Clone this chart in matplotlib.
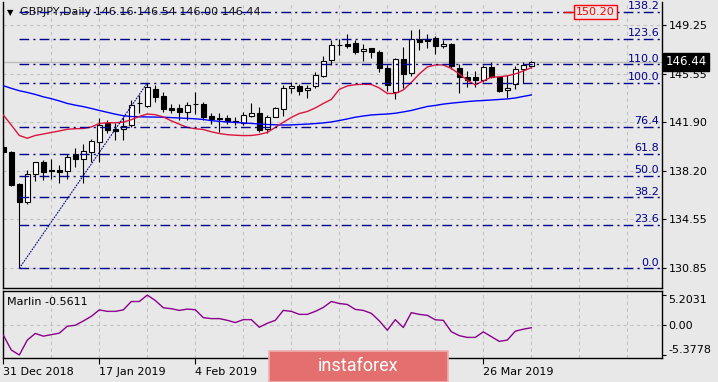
import matplotlib
matplotlib.use("Agg")
import matplotlib.pyplot as plt
import matplotlib.transforms as mtransforms
from matplotlib.patches import Rectangle
import numpy as np

# GBPJPY daily candles, 31 Dec 2018 .. 3 Apr 2019
opens = [140.03, 139.66, 137.22, 135.88, 137.95, 138.86, 138.27, 138.27, 138.20, 139.48,
         139.08, 139.66, 140.41, 141.80, 141.39, 141.35, 141.67, 143.31, 143.11, 144.39,
         143.86, 142.94, 142.94, 142.68, 143.24, 143.26, 142.35, 142.20, 142.18, 142.01,
         141.85, 142.38, 142.56, 141.35, 142.30, 142.86, 144.45, 144.62, 144.32, 144.64,
         145.40, 146.55, 147.68, 147.79, 147.87, 147.23, 147.47, 147.19, 145.96, 144.19,
         146.64, 145.58, 148.17, 148.17, 148.27, 147.60, 147.78, 145.98, 145.30, 145.29,
         145.07, 146.03, 145.32, 144.32, 144.75, 145.90, 146.16]
highs = [140.79, 139.70, 137.29, 138.27, 138.90, 139.03, 139.08, 138.65, 139.48, 139.96,
         140.24, 140.59, 142.18, 142.05, 141.80, 142.30, 143.56, 143.94, 144.85, 144.70,
         144.19, 143.26, 143.26, 143.43, 144.17, 143.43, 142.56, 142.56, 142.43, 142.24,
         142.63, 143.31, 143.06, 142.43, 143.06, 144.70, 144.94, 144.75, 144.70, 145.70,
         146.89, 148.09, 148.13, 148.52, 148.09, 147.79, 147.49, 147.30, 146.21, 146.70,
         147.57, 148.85, 148.90, 148.52, 148.43, 148.06, 147.85, 146.28, 145.75, 145.72,
         146.21, 146.46, 145.40, 145.45, 146.15, 146.41, 146.54]
lows = [139.41, 137.10, 130.85, 135.71, 137.47, 137.52, 137.57, 137.32, 137.57, 138.52,
        137.27, 138.90, 138.90, 141.05, 140.54, 140.54, 141.50, 142.56, 143.06, 143.43,
        142.68, 142.60, 142.05, 142.05, 142.50, 142.05, 141.75, 141.11, 141.71, 141.67,
        141.67, 142.30, 141.17, 141.05, 142.30, 142.38, 144.07, 143.94, 143.74, 144.45,
        145.30, 146.21, 146.94, 147.47, 147.04, 146.51, 146.73, 145.70, 144.24, 143.66,
        144.47, 145.38, 147.34, 147.45, 147.00, 147.45, 145.90, 144.07, 144.51, 144.57,
        144.94, 145.20, 144.19, 143.74, 144.39, 144.82, 146.00]
closes = [139.66, 137.14, 135.88, 137.95, 138.86, 138.15, 138.18, 138.10, 139.23, 139.08,
          139.69, 140.47, 141.67, 141.30, 141.22, 141.62, 143.18, 143.33, 144.52, 143.81,
          142.86, 142.81, 142.68, 143.18, 143.26, 142.30, 142.10, 142.16, 141.96, 141.92,
          142.43, 142.56, 141.32, 142.30, 142.96, 144.47, 144.62, 144.26, 144.47, 145.41,
          146.49, 147.68, 147.69, 147.66, 147.19, 147.39, 147.15, 145.96, 144.70, 146.64,
          145.51, 148.15, 147.97, 148.04, 147.62, 147.78, 146.09, 145.26, 145.07, 145.04,
          146.08, 145.32, 144.26, 144.49, 145.88, 146.21, 146.44]

# moving averages
ma_blue = [144.64, 144.44, 144.26, 144.13, 143.98, 143.80, 143.66, 143.49, 143.30, 143.17,
           143.06, 142.92, 142.77, 142.63, 142.49, 142.37, 142.31, 142.29, 142.28, 142.27,
           142.26, 142.23, 142.20, 142.17, 142.14, 142.09, 142.00, 141.95, 141.90, 141.87,
           141.83, 141.79, 141.75, 141.71, 141.69, 141.67, 141.68, 141.71, 141.74, 141.78,
           141.83, 141.90, 142.01, 142.13, 142.26, 142.35, 142.43, 142.47, 142.50, 142.56,
           142.66, 142.77, 142.92, 143.07, 143.15, 143.25, 143.32, 143.38, 143.44, 143.49,
           143.52, 143.56, 143.60, 143.64, 143.71, 143.83, 143.94]
ma_red = [142.43, 141.67, 140.88, 140.67, 140.88, 140.99, 141.11, 141.22, 141.35, 141.39,
          141.41, 141.52, 141.79, 141.84, 141.84, 141.89, 142.07, 142.32, 142.50, 142.45,
          142.28, 141.99, 141.73, 141.49, 141.39, 141.33, 141.16, 141.03, 140.94, 140.90,
          140.87, 140.88, 140.96, 141.11, 141.49, 141.88, 142.24, 142.54, 142.69, 142.96,
          143.30, 143.60, 144.36, 144.62, 144.72, 144.75, 144.73, 144.47, 144.05, 144.05,
          144.32, 144.88, 145.53, 146.05, 146.21, 146.21, 145.94, 145.53, 145.05, 144.70,
          145.00, 145.28, 145.31, 145.39, 145.53, 145.75, 146.00]

marlin = [-1.87, -4.49, -5.3778, -2.74, -1.57, -2.05, -1.78, -1.52, -0.30, -0.12,
          0.63, 1.45, 2.59, 2.33, 2.33, 2.59, 4.07, 4.07, 5.2031, 4.25,
          2.97, 2.80, 2.50, 2.73, 2.62, 1.22, 1.05, 1.05, 0.75, 0.35,
          0.87, 0.87, -0.47, 0.23, 0.75, 2.50, 2.33, 1.80, 1.80, 2.33,
          3.02, 4.07, 3.72, 3.55, 2.67, 2.50, 1.98, 0.66, -1.00, 0.87,
          -0.52, 2.10, 1.80, 1.63, 0.84, 0.75, -1.26, -1.96, -2.27, -2.27,
          -1.29, -2.13, -2.97, -2.74, -1.17, -0.82, -0.5611]

price_ticks = [149.25, 145.55, 141.90, 138.20, 134.55, 130.85]
marlin_ticks = [5.2031, 0.0, -5.3778]
marlin_labels = ["5.2031", "0.00", "-5.3778"]
# the 20 Feb and 8 Mar labels sit under the logo in the original
date_ticks = [0, 12, 24, 36, 48, 60]
date_labels = ["31 Dec 2018", "17 Jan 2019", "4 Feb 2019", "", "", "26 Mar 2019"]

# fibonacci retracement: anchored on the 3 Jan low and the 21 Jan high
fib_start, fib_end = 2, 18
fib_low, fib_high = 130.85, 144.85
fib_levels = [0.0, 23.6, 38.2, 50.0, 61.8, 76.4, 100.0, 110.0, 123.6, 138.2]

title = "GBPJPY,Daily 146.16 146.54 146.00 146.44"
last_price = closes[-1]

BG = "#E8E8E8"
GRID = "#C3C3C3"
FIB = "#00008B"
W, H = 718, 382
XMIN, XMAX = -0.1, 82.3

plt.rcParams["font.family"] = "DejaVu Sans"
plt.rcParams["font.size"] = 8

fig = plt.figure(figsize=(W / 100, H / 100), dpi=100, facecolor=BG)
ax = fig.add_axes([2.5 / W, (H - 288.3) / H, 659.2 / W, 286.3 / H], facecolor=BG)
ax2 = fig.add_axes([2.5 / W, (H - 358.3) / H, 659.2 / W, 67.6 / H], facecolor=BG)

# ---- main price window ----
ax.set_xlim(XMIN, XMAX)
ax.set_ylim(129.34, 150.96)
for g in range(0, 84, 6):
    ax.axvline(g, color=GRID, lw=0.8, ls=(0, (3, 3)), zorder=0)
    ax2.axvline(g, color=GRID, lw=0.8, ls=(0, (3, 3)), zorder=0)
for p in price_ticks:
    ax.axhline(p, color=GRID, lw=0.8, ls=(0, (3, 3)), zorder=0)
ax.axhline(last_price, color="#BDBDBD", lw=1.0, zorder=1)

idx = np.arange(len(opens))
o = np.array(opens)
c = np.array(closes)
up = c >= o
ax.vlines(idx, lows, highs, color="black", lw=0.8, zorder=3)
ax.bar(idx[up], (c - o)[up], bottom=o[up], width=0.55, color="white",
       edgecolor="black", lw=0.8, zorder=4)
ax.bar(idx[~up], (o - c)[~up], bottom=c[~up], width=0.55, color="black",
       edgecolor="black", lw=0.8, zorder=4)

ax.plot(idx, ma_blue, color="#0000FF", lw=1.0, zorder=5)
ax.plot(idx, ma_red, color="#DC143C", lw=1.0, zorder=5)

for lvl in fib_levels:
    price = fib_low + (fib_high - fib_low) * lvl / 100
    ax.hlines(price, fib_start, XMAX, color=FIB, lw=1.0, ls=(0, (7, 3, 1.5, 3)), zorder=6)
    ax.text(82.0, price + 0.05, f"{lvl:.1f}", color=FIB, ha="right", va="bottom", zorder=7)
ax.plot([fib_start, fib_end], [fib_low, fib_high], color=FIB, lw=0.8,
        ls=(0, (1.5, 1)), zorder=6)

# price tag of the 138.2 level
top_price = fib_low + (fib_high - fib_low) * fib_levels[-1] / 100
ax.plot([70.1, 71.4], [top_price, top_price], color="red", lw=1.0, zorder=7)
ax.text(71.6, top_price, f"{top_price:.2f}", color="red", ha="left", va="center", zorder=8,
        bbox=dict(boxstyle="square,pad=0.15", facecolor=BG, edgecolor="red", lw=1.0))

ax.yaxis.tick_right()
ax.set_yticks(price_ticks)
ax.set_yticklabels([f"{p:.2f}" for p in price_ticks])
ax.tick_params(axis="y", direction="out", length=3, pad=2, labelsize=8)
ax.set_xticks([])
for side in ["left", "right", "bottom"]:
    ax.spines[side].set_color("black")
    ax.spines[side].set_linewidth(1.0)
ax.spines["top"].set_visible(False)

trans = mtransforms.blended_transform_factory(ax.transAxes, ax.transData)
ax.text(1.006, last_price, f"{last_price:.2f}", transform=trans, color="white",
        ha="left", va="center", fontsize=8.5, zorder=10, clip_on=False,
        bbox=dict(boxstyle="square,pad=0.2", facecolor="black", edgecolor="black"))

ax.text(0.0068, 0.965, "\u25BC", transform=ax.transAxes, fontsize=6, va="center", ha="left")
ax.text(0.0265, 0.965, title, transform=ax.transAxes, va="center", ha="left", color="#111111")

# ---- Marlin window ----
ax2.set_xlim(XMIN, XMAX)
ax2.set_ylim(-5.96, 5.98)
ax2.axhline(0, color=GRID, lw=0.8, ls=(0, (3, 3)), zorder=0)
ax2.plot(idx, marlin, color="#8B008B", lw=1.0, zorder=3)
ax2.text(0.0068, 0.83, f"Marlin {marlin[-1]:.4f}", transform=ax2.transAxes,
         va="center", ha="left")

ax2.yaxis.tick_right()
ax2.set_yticks(marlin_ticks)
ax2.set_yticklabels(marlin_labels)
ax2.tick_params(axis="y", direction="out", length=3, pad=2, labelsize=8)
ylabs = ax2.get_yticklabels()
ylabs[0].set_va("top")
ylabs[-1].set_va("bottom")

ax2.set_xticks(date_ticks)
ax2.set_xticklabels(date_labels)
ax2.tick_params(axis="x", direction="out", length=4, pad=2, labelsize=8)
for lab in ax2.get_xticklabels():
    lab.set_ha("left")
for side in ax2.spines.values():
    side.set_color("black")
    side.set_linewidth(1.0)

# watermark logo
fig.patches.append(Rectangle((269 / W, 0), (448 - 269) / W, (H - 351) / H,
                             transform=fig.transFigure, facecolor="#E36F6F",
                             edgecolor="#F0AFAF", lw=1.2, zorder=20))
fig.text(358 / W, (H - 366) / H, "instaforex", color="white", fontsize=13,
         family="Roboto", ha="center", va="center", zorder=21)

fig.savefig("out.png", dpi=100, facecolor=BG)
